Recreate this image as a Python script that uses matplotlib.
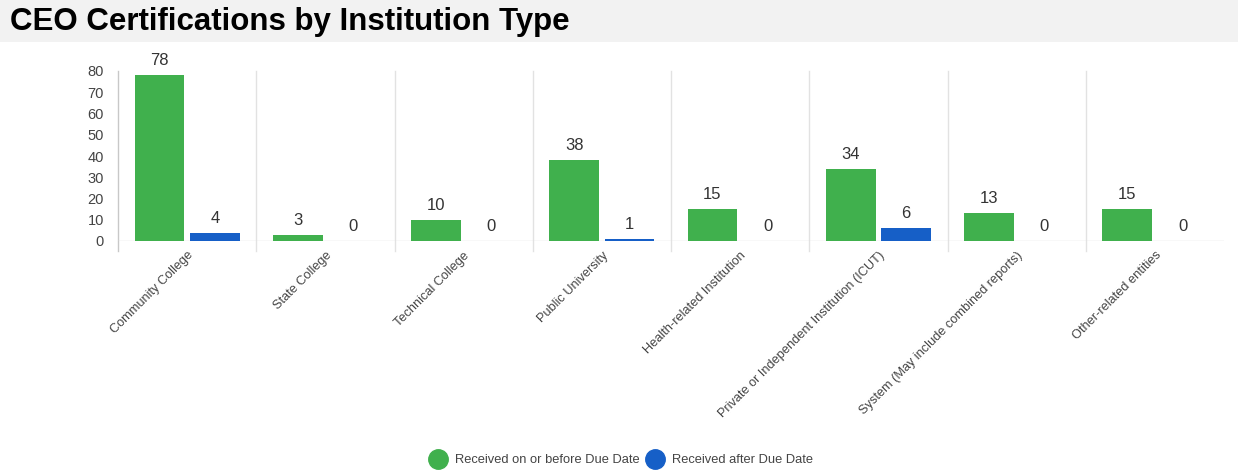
#!/usr/bin/env python3
"""CEO certifications by institution type, grouped bars."""

import matplotlib

matplotlib.use("Agg")
import matplotlib.pyplot as plt
from matplotlib.lines import Line2D
from matplotlib.patches import Rectangle
import numpy as np

categories = [
    "Community College",
    "State College",
    "Technical College",
    "Public University",
    "Health-related Institution",
    "Private or Independent Institution (ICUT)",
    "System (May include combined reports)",
    "Other-related entities",
]
on_time = [78, 3, 10, 38, 15, 34, 13, 15]
late = [4, 0, 0, 1, 0, 6, 0, 0]
series_names = ["Received on or before Due Date", "Received after Due Date"]

GREEN = "#40b04d"
BLUE = "#165fc7"
TEXT = "#444444"

plt.rcParams["font.family"] = ["Liberation Sans", "DejaVu Sans"]

fig = plt.figure(figsize=(12.38, 4.75), dpi=100)
fig.patches.append(
    Rectangle((0, 1 - 42 / 475), 1, 42 / 475, transform=fig.transFigure,
              facecolor="#f2f2f2", edgecolor="none", zorder=0)
)
fig.text(10 / 1238, 1 - 22 / 475, "CEO Certifications by Institution Type",
         fontsize=22.5, fontweight="bold", color="black", va="center", ha="left")

ax = fig.add_axes([118 / 1238, 1 - 241 / 475, (1224 - 118) / 1238, 170 / 475])

x = np.arange(len(categories))
width = 0.36
g_pos = x + 0.5 - 0.2
b_pos = x + 0.5 + 0.2
ax.bar(g_pos, on_time, width, color=GREEN, zorder=3)
ax.bar(b_pos, late, width, color=BLUE, zorder=3)

for xs, vals in ((g_pos, on_time), (b_pos, late)):
    for xi, v in zip(xs, vals):
        ax.annotate(str(v), (xi, v), xytext=(0, 5), textcoords="offset points",
                    ha="center", va="bottom", fontsize=12, color="#333333")

ax.set_xlim(0, len(categories))
ax.set_ylim(0, 80)
ax.set_yticks(range(0, 81, 10))
ax.tick_params(axis="y", length=0, pad=10, labelsize=10.5, labelcolor=TEXT)

ax.set_xticks(x + 0.5)
ax.set_xticklabels(categories, rotation=45, ha="right", rotation_mode="anchor",
                   fontsize=9.2, color=TEXT)
ax.tick_params(axis="x", length=0, pad=6)

for b in range(1, len(categories)):
    ax.axvline(b, ymin=-0.06, ymax=1, color="#e2e2e2", linewidth=1,
               clip_on=False, zorder=1)
ax.axvline(0, ymin=-0.06, ymax=1, color="#c8c8c8", linewidth=1, clip_on=False, zorder=2)
ax.axhline(0, color="#dddddd", linewidth=1, zorder=2)

for s in ax.spines.values():
    s.set_visible(False)

handles = [
    Line2D([], [], marker="o", linestyle="none", markersize=14,
           markerfacecolor=GREEN, markeredgecolor=GREEN),
    Line2D([], [], marker="o", linestyle="none", markersize=14,
           markerfacecolor=BLUE, markeredgecolor=BLUE),
]
fig.legend(handles, series_names, loc="center", bbox_to_anchor=(0.5, 1 - 460 / 475),
           ncol=2, frameon=False, fontsize=9.3, handletextpad=0.3, columnspacing=0.2,
           labelcolor=TEXT)

fig.savefig("out.png", dpi=100)
